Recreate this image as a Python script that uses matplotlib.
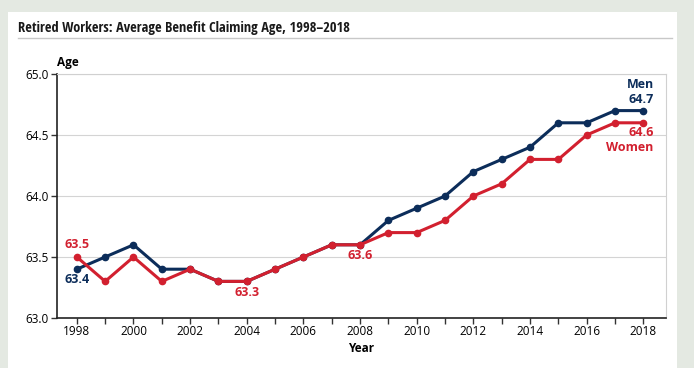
import matplotlib.pyplot as plt
from matplotlib.patches import Rectangle
from matplotlib.lines import Line2D

years = list(range(1998, 2019))
men = [63.4, 63.5, 63.6, 63.4, 63.4, 63.3, 63.3, 63.4, 63.5, 63.6, 63.6,
       63.8, 63.9, 64.0, 64.2, 64.3, 64.4, 64.6, 64.6, 64.7, 64.7]
women = [63.5, 63.3, 63.5, 63.3, 63.4, 63.3, 63.3, 63.4, 63.5, 63.6, 63.6,
         63.7, 63.7, 63.8, 64.0, 64.1, 64.3, 64.3, 64.5, 64.6, 64.6]
yticks = [63.0, 63.5, 64.0, 64.5, 65.0]
xticks = list(range(1998, 2019, 2))

navy = '#0c2d5a'
red = '#d2202f'

plt.rcParams['font.family'] = ['Open Sans', 'DejaVu Sans']

fig = plt.figure(figsize=(6.94, 3.68), dpi=100)
fig.patch.set_facecolor('#e4e9e2')
# white panel behind everything
fig.patches.append(Rectangle((8 / 694, 0), 669 / 694, 1 - 12 / 368,
                             transform=fig.transFigure, facecolor='white',
                             edgecolor='none', zorder=-5))
fig.text(18 / 694, 1 - 28 / 368, 'Retired Workers: Average Benefit Claiming Age, 1998\u20132018',
         fontsize=10.4, fontweight='bold', color='#1a1a1a', va='center', ha='left',
         family=['Open Sans Condensed', 'DejaVu Sans'])
fig.lines.append(Line2D([18 / 694, 672 / 694], [1 - 38 / 368, 1 - 38 / 368],
                        transform=fig.transFigure, color='#c8c8c8', lw=1))

ax = fig.add_axes([57 / 694, 1 - 318 / 368, 609 / 694, 244 / 368])
ax.set_facecolor('white')

ax.plot(years, men, color=navy, lw=2.2, marker='o', ms=4.5, zorder=3)
ax.plot(years, women, color=red, lw=2.2, marker='o', ms=4.5, zorder=4)

ax.set_xlim(1997.3, 2018.8)
ax.set_ylim(63.0, 65.0)
ax.set_yticks(yticks)
ax.set_yticklabels([f'{v:.1f}' for v in yticks], fontsize=8.5)
ax.set_xticks(years, minor=True)
ax.set_xticks(xticks)
ax.set_xticklabels([str(x) for x in xticks], fontsize=8.5)
ax.tick_params(axis='both', which='both', length=4, color='#333333', width=1)
ax.tick_params(axis='x', pad=1)
ax.tick_params(axis='y', pad=2)
ax.grid(axis='y', color='#d4d4d4', lw=0.8)
ax.set_axisbelow(True)

for side in ['top', 'right']:
    ax.spines[side].set_color('#d0d0d0')
    ax.spines[side].set_linewidth(0.8)
for side in ['left', 'bottom']:
    ax.spines[side].set_color('#222222')
    ax.spines[side].set_linewidth(1.2)

ax.set_xlabel('Year', fontsize=8.5, fontweight='bold', labelpad=3)
ax.text(0, 1.02, 'Age', transform=ax.transAxes, fontsize=8.5, fontweight='bold',
        ha='left', va='bottom')

lab = dict(fontsize=9, fontweight='bold')
ax.annotate(f'{women[0]:.1f}', (years[0], women[0]), xytext=(0, 4),
            textcoords='offset points', ha='center', va='bottom', color=red, **lab)
ax.annotate(f'{men[0]:.1f}', (years[0], men[0]), xytext=(0, -3),
            textcoords='offset points', ha='center', va='top', color=navy, **lab)
ax.annotate(f'{women[6]:.1f}', (years[6], women[6]), xytext=(0, -3),
            textcoords='offset points', ha='center', va='top', color=red, **lab)
ax.annotate(f'{women[10]:.1f}', (years[10], women[10]), xytext=(0, -3),
            textcoords='offset points', ha='center', va='top', color=red, **lab)
ax.annotate(f'Men\n{men[-1]:.1f}', (years[-1], men[-1]), xytext=(7.5, 3),
            textcoords='offset points', ha='right', va='bottom', color=navy,
            multialignment='right', linespacing=1.25, **lab)
ax.annotate(f'{women[-1]:.1f}\nWomen', (years[-1], women[-1]), xytext=(7.5, -2),
            textcoords='offset points', ha='right', va='top', color=red,
            multialignment='right', linespacing=1.25, **lab)

fig.savefig('out.png', dpi=100, facecolor=fig.get_facecolor())
